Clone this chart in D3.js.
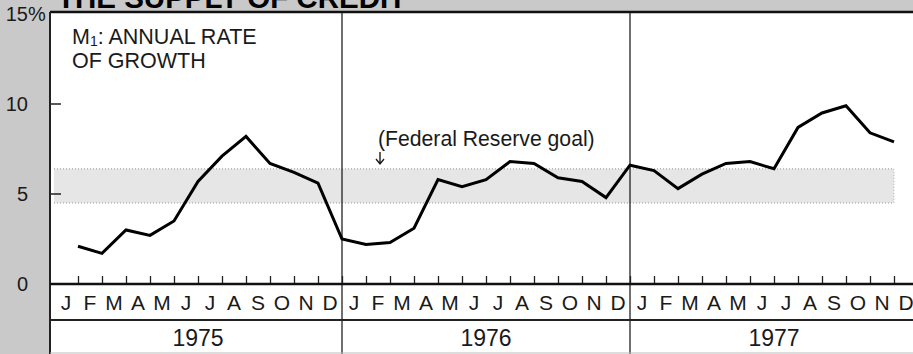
<!DOCTYPE html>
<meta charset="utf-8">
<script src="https://d3js.org/d3.v7.min.js"></script>
<style>
body { margin: 0; padding: 0; background: #c9c9c9; }
text { font-family: 'Liberation Sans', Arial, sans-serif; fill: #1a1a1a; }
</style>
<body>
<div id="chart"></div>
<script>
// data
var months = ["J","F","M","A","M","J","J","A","S","O","N","D"];
var years = ["1975","1976","1977"];
// M1 annual growth rate, end of each month, Jan 1975 .. Nov 1977
var m1Growth = [2.1, 1.7, 3.0, 2.7, 3.5, 5.7, 7.1, 8.2, 6.7, 6.2, 5.6, 2.5,
                2.2, 2.3, 3.1, 5.8, 5.4, 5.8, 6.8, 6.7, 5.9, 5.7, 4.8, 6.6,
                6.3, 5.3, 6.1, 6.7, 6.8, 6.4, 8.7, 9.5, 9.9, 8.4, 7.9];
var goalBand = [4.5, 6.4];
var yTicks = [0, 5, 10, 15];

var W = 913, H = 354;
var panelLeft = 50, panelTop = 12, axisY = 284, rowY = 320;

var svg = d3.select("#chart").append("svg")
  .attr("width", W)
  .attr("height", H);

// month index scale (0 = start of Jan 1975, 36 = end of Dec 1977)
var x = d3.scaleLinear().domain([0, 36]).range([54, 918]);
var y = d3.scaleLinear().domain([0, 15]).range([axisY, 14]);

// title, mostly cut off at the top
svg.append("text")
  .attr("x", 57).attr("y", 8)
  .style("font-weight", "bold")
  .style("font-size", "29.5px")
  .style("fill", "#000")
  .text("THE SUPPLY OF CREDIT");

// white panel
svg.append("rect")
  .attr("x", panelLeft).attr("y", panelTop)
  .attr("width", W - panelLeft).attr("height", H - panelTop)
  .attr("fill", "#fff");

// Federal Reserve goal band
svg.append("rect")
  .attr("x", x(0)).attr("y", y(goalBand[1]))
  .attr("width", x(35) - x(0))
  .attr("height", y(goalBand[0]) - y(goalBand[1]))
  .attr("fill", "#e6e6e6");
svg.selectAll(".bandEdge")
  .data(goalBand)
  .enter()
  .append("line")
    .attr("x1", x(0)).attr("x2", x(35))
    .attr("y1", function(d){ return y(d) })
    .attr("y2", function(d){ return y(d) })
    .attr("stroke", "#9a9a9a")
    .attr("stroke-width", 1)
    .style("stroke-dasharray", "1,2");
svg.append("line")
  .attr("x1", x(35)).attr("x2", x(35))
  .attr("y1", y(goalBand[1])).attr("y2", y(goalBand[0]))
  .attr("stroke", "#b0b0b0")
  .style("stroke-dasharray", "1,2");

// year dividers
svg.selectAll(".yearDiv")
  .data([12, 24])
  .enter()
  .append("line")
    .attr("x1", function(d){ return x(d) })
    .attr("x2", function(d){ return x(d) })
    .attr("y1", panelTop).attr("y2", H)
    .attr("stroke", "#222")
    .attr("stroke-width", 1.3);

// frame lines
svg.append("line")
  .attr("x1", panelLeft).attr("x2", W).attr("y1", panelTop).attr("y2", panelTop)
  .attr("stroke", "#111").attr("stroke-width", 2.5);
svg.append("line")
  .attr("x1", panelLeft).attr("x2", panelLeft).attr("y1", panelTop).attr("y2", H)
  .attr("stroke", "#222").attr("stroke-width", 2);
svg.append("line")
  .attr("x1", panelLeft).attr("x2", W).attr("y1", rowY).attr("y2", rowY)
  .attr("stroke", "#222").attr("stroke-width", 1.8);
svg.append("line")
  .attr("x1", panelLeft).attr("x2", W).attr("y1", H - 1).attr("y2", H - 1)
  .attr("stroke", "#bbb").attr("stroke-width", 1);

// bottom axis with month-end ticks pointing up
var xAxis = svg.append("g")
  .attr("transform", "translate(0," + axisY + ")")
  .call(d3.axisBottom(x).tickValues(d3.range(1, 36)).tickSize(-8).tickFormat(""));
xAxis.select(".domain").remove();
xAxis.selectAll(".tick line").attr("stroke", "#222").attr("stroke-width", 1.3);
svg.append("line")
  .attr("x1", panelLeft).attr("x2", W).attr("y1", axisY).attr("y2", axisY)
  .attr("stroke", "#111").attr("stroke-width", 2.5);

// month letters
var monthCells = d3.range(36);
svg.selectAll(".month")
  .data(monthCells)
  .enter()
  .append("text")
    .attr("x", function(d){ return (x(d) + x(d + 1)) / 2 })
    .attr("y", 302)
    .attr("text-anchor", "middle")
    .attr("dominant-baseline", "central")
    .style("font-size", "21px")
    .text(function(d){ return months[d % 12] });

// years
svg.selectAll(".year")
  .data(years)
  .enter()
  .append("text")
    .attr("x", function(d, i){ return (x(i * 12) + x(i * 12 + 12)) / 2 })
    .attr("y", 338)
    .attr("text-anchor", "middle")
    .attr("dominant-baseline", "central")
    .style("font-size", "23px")
    .text(function(d){ return d });

// y axis labels and small ticks
var yAxis = svg.append("g")
  .attr("transform", "translate(" + panelLeft + ",0)")
  .call(d3.axisLeft(y).tickValues(yTicks).tickSize(0).tickPadding(22));
yAxis.select(".domain").remove();
yAxis.selectAll(".tick text")
  .style("font-size", "20px")
  .style("font-family", "'Liberation Sans', Arial, sans-serif")
  .attr("fill", "#1a1a1a");
svg.append("text")
  .attr("x", panelLeft - 22).attr("y", y(15))
  .attr("dominant-baseline", "central")
  .style("font-size", "20px")
  .text("%");
svg.selectAll(".ytick")
  .data([5, 10])
  .enter()
  .append("line")
    .attr("x1", panelLeft).attr("x2", panelLeft + 11)
    .attr("y1", function(d){ return y(d) })
    .attr("y2", function(d){ return y(d) })
    .attr("stroke", "#222").attr("stroke-width", 1.5);

// the M1 line
var line = d3.line()
  .x(function(d, i){ return x(i + 1) })
  .y(function(d){ return y(d) });
svg.append("path")
  .datum(m1Growth)
  .attr("d", line)
  .attr("fill", "none")
  .attr("stroke", "#000")
  .attr("stroke-width", 3)
  .attr("stroke-linejoin", "miter");

// labels
var lbl = svg.append("text")
  .attr("x", 72).attr("y", 44)
  .style("font-size", "21.5px");
lbl.append("tspan").text("M");
lbl.append("tspan").attr("dy", 2).style("font-size", "14px").text("1");
lbl.append("tspan").attr("dy", -2).text(": ANNUAL RATE");
svg.append("text")
  .attr("x", 72).attr("y", 68)
  .style("font-size", "21.5px")
  .text("OF GROWTH");

svg.append("text")
  .attr("x", 378).attr("y", 146)
  .style("font-size", "21.2px")
  .text("(Federal Reserve goal)");
// small down arrow under the goal label
var ax = 380;
svg.append("path")
  .attr("d", "M" + ax + ",152 V164 M" + (ax - 4) + ",159 L" + ax + ",164 L" + (ax + 4) + ",159")
  .attr("fill", "none")
  .attr("stroke", "#1a1a1a")
  .attr("stroke-width", 1.4);
</script>
</body>
